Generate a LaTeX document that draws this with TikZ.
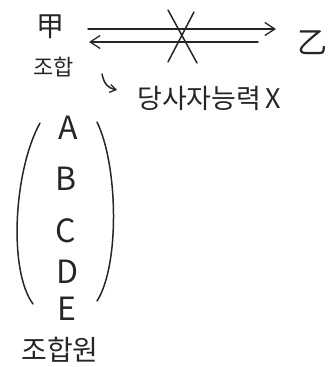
\documentclass[tikz,border=0pt]{standalone}
\usepackage{fontspec}
\setmainfont{Noto Sans CJK KR}
\usetikzlibrary{arrows.meta}
\begin{document}
\begin{tikzpicture}[x=1pt,y=-1pt,
  ink/.style={line width=1.5pt,line cap=round,line join=round,draw=black!85},
  barb/.style={-{Straight Barb[length=10pt,width=13pt,line width=1.3pt]}},
  lbl/.style={inner sep=0pt,text=black!85},
  letter/.style={lbl,font=\fontsize{32}{32}\selectfont},
  kr/.style={lbl,font=\fontsize{27}{27}\selectfont}]
\useasboundingbox (0,0) rectangle (328,367);
% parties
\node[lbl,font=\fontsize{28}{28}\selectfont] (jia) at (50,27) {甲};
\node[lbl,font=\fontsize{30}{30}\selectfont] (yi) at (312,43) {乙};
\node[lbl,font=\fontsize{22}{22}\selectfont] (johap) at (54,67) {조합};
% arrows
\coordinate (u1) at (88,29);
\coordinate (u2) at (276,29);
\coordinate (l1) at (258,42);
\coordinate (l2) at (89,42);
\draw[ink,barb] (u1) -- (u2);
\draw[ink,barb] (l1) -- (l2);
% cross
\coordinate (c1) at (168,10);
\coordinate (c2) at (197,63);
\coordinate (c3) at (194,12);
\coordinate (c4) at (168,62);
\draw[ink] (c1) -- (c2);
\draw[ink] (c3) -- (c4);
% hook arrow
\node[kr,anchor=west] (cap) at (137,98) {당사자능력\,X};
\coordinate (h1) at (102,74);
\coordinate (h2) at (117,90);
\draw[ink,-{Straight Barb[length=6pt,width=8pt,line width=1.3pt]}] (h1) .. controls (104,84) and (108,88) .. (h2);
% members
\node[letter] (A) at (68,128) {A};
\node[letter] (B) at (66,179) {B};
\node[letter] (C) at (66,231) {C};
\node[letter] (D) at (68,272) {D};
\node[letter] (E) at (67,309) {E};
% parentheses
\coordinate (p1) at (40,123);
\coordinate (p2) at (33,304);
\coordinate (q1) at (97,122);
\coordinate (q2) at (97,301);
\draw[ink] (p1) .. controls (14,170) and (8,270) .. (p2);
\draw[ink] (q1) .. controls (118,165) and (120,265) .. (q2);
\node[lbl,font=\fontsize{28}{28}\selectfont] (members) at (60,350) {조합원};
\end{tikzpicture}
\end{document}
